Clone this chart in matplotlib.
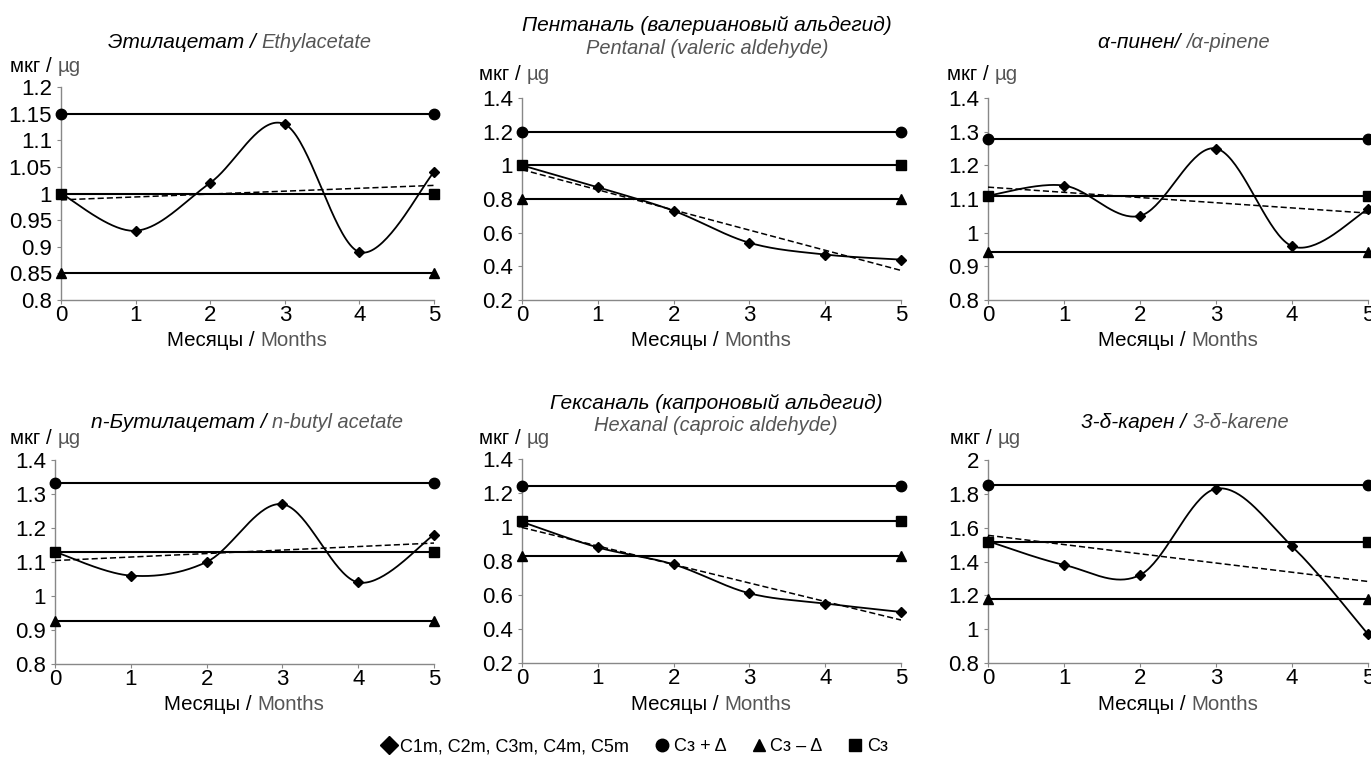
import numpy as np
import matplotlib
matplotlib.use("Agg")
import matplotlib.pyplot as plt
from matplotlib.lines import Line2D
from matplotlib.offsetbox import TextArea, HPacker, AnnotationBbox
from matplotlib.ticker import MultipleLocator, FuncFormatter

plt.rcParams['font.family'] = ['Liberation Sans', 'DejaVu Sans']

# ---------------- data ----------------
months = [0, 1, 2, 3, 4, 5]

ethyl_c = [1.00, 0.93, 1.02, 1.13, 0.89, 1.04]
ethyl_c3, ethyl_hi, ethyl_lo = 1.00, 1.15, 0.85

pentanal_c = [1.00, 0.87, 0.73, 0.54, 0.47, 0.44]
pentanal_c3, pentanal_hi, pentanal_lo = 1.00, 1.20, 0.80

pinene_c = [1.11, 1.14, 1.05, 1.25, 0.96, 1.07]
pinene_c3, pinene_hi, pinene_lo = 1.11, 1.277, 0.944

butyl_c = [1.13, 1.06, 1.10, 1.27, 1.04, 1.18]
butyl_c3, butyl_hi, butyl_lo = 1.13, 1.333, 0.927

hexanal_c = [1.03, 0.88, 0.78, 0.61, 0.55, 0.50]
hexanal_c3, hexanal_hi, hexanal_lo = 1.035, 1.242, 0.829

karene_c = [1.52, 1.38, 1.32, 1.83, 1.49, 0.97]
karene_c3, karene_hi, karene_lo = 1.516, 1.851, 1.181

titles_ru = ["Этилацетат / ", "Пентаналь (валериановый альдегид)", "α-пинен/ ",
             "n-Бутилацетат / ", "Гексаналь (капроновый альдегид)", "3-δ-карен / "]
titles_en = ["Ethylacetate", "Pentanal (valeric aldehyde)", "/α-pinene",
             "n-butyl acetate", "Hexanal (caproic aldehyde)", "3-δ-karene"]
two_line = [False, True, False, False, True, False]

y_limits = [(0.8, 1.2), (0.2, 1.4), (0.8, 1.4), (0.8, 1.4), (0.2, 1.4), (0.8, 2.0)]
y_steps = [0.05, 0.2, 0.1, 0.1, 0.2, 0.2]

legend_labels = ["C1m, C2m, C3m, C4m, C5m", "Cз + Δ", "Cз – Δ", "Cз"]

series = [
    (ethyl_c, ethyl_c3, ethyl_hi, ethyl_lo),
    (pentanal_c, pentanal_c3, pentanal_hi, pentanal_lo),
    (pinene_c, pinene_c3, pinene_hi, pinene_lo),
    (butyl_c, butyl_c3, butyl_hi, butyl_lo),
    (hexanal_c, hexanal_c3, hexanal_hi, hexanal_lo),
    (karene_c, karene_c3, karene_hi, karene_lo),
]

# ---------------- layout (pixels) ----------------
W, H = 1371, 766
fig = plt.figure(figsize=(W / 100, H / 100), dpi=100)

boxes_px = [  # left, right, top, bottom
    (61, 434, 87, 300),
    (522, 901, 98, 300),
    (988, 1368, 98, 300),
    (55, 434, 460, 664),
    (522, 901, 459, 663),
    (988, 1368, 460, 663),
]
title_x = [240, 707, 1184, 247, 716, 1185]
title_y = [42, (25, 48), 42, 422, (403, 425), 422]
unit_pos = [(10, 67), (479, 75), (947, 75), (10, 438), (479, 438), (950, 439)]
xlabel_y = [340, 340, 340, 705, 705, 705]

GRAY = '#555555'
SPINE = '#888888'


def fx(px):
    return px / W


def fy(py):
    return 1 - py / H


def rich(x_px, y_px, parts, style='normal', align=(0.5, 0.5)):
    children = [TextArea(s, textprops=dict(color=c, fontsize=sz, fontstyle=style))
                for s, c, sz in parts]
    pack = HPacker(children=children, align='baseline', pad=0, sep=0)
    ab = AnnotationBbox(pack, (fx(x_px), fy(y_px)), xycoords='figure fraction',
                        frameon=False, box_alignment=align, pad=0)
    fig.add_artist(ab)


def smooth(xs, ys, n=40):
    xs = np.asarray(xs, float)
    ys = np.asarray(ys, float)
    px = np.concatenate([[xs[0]], xs, [xs[-1]]])
    py = np.concatenate([[ys[0]], ys, [ys[-1]]])
    tx = (px[2:] - px[:-2]) / 2
    ty = (py[2:] - py[:-2]) / 2
    outx, outy = [], []
    t = np.linspace(0, 1, n)
    for i in range(len(xs) - 1):
        p0 = np.array([xs[i], ys[i]])
        p3 = np.array([xs[i + 1], ys[i + 1]])
        p1 = p0 + np.array([tx[i], ty[i]]) / 3
        p2 = p3 - np.array([tx[i + 1], ty[i + 1]]) / 3
        b = ((1 - t) ** 3)[:, None] * p0 + (3 * (1 - t) ** 2 * t)[:, None] * p1 \
            + (3 * (1 - t) * t ** 2)[:, None] * p2 + (t ** 3)[:, None] * p3
        outx.extend(b[:, 0])
        outy.extend(b[:, 1])
    return outx, outy


fmt = FuncFormatter(lambda v, p: '%g' % round(v, 3))

for i, (cvals, c3, hi, lo) in enumerate(series):
    l, r, t, b = boxes_px[i]
    ax = fig.add_axes([fx(l), fy(b), (r - l) / W, (b - t) / H])
    ax.set_xlim(0, 5)
    ax.set_ylim(*y_limits[i])
    ax.yaxis.set_major_locator(MultipleLocator(y_steps[i]))
    ax.yaxis.set_major_formatter(fmt)
    ax.set_xticks(months)
    for s in ['top', 'right']:
        ax.spines[s].set_visible(False)
    for s in ['left', 'bottom']:
        ax.spines[s].set_color(SPINE)
        ax.spines[s].set_linewidth(1.0)
    ax.tick_params(axis='y', direction='out', length=3, color=SPINE, labelsize=16, pad=3.5)
    ax.tick_params(axis='x', direction='out', length=3, color=SPINE, labelsize=16, pad=0.5)
    ax.patch.set_alpha(0)

    ends = [months[0], months[-1]]
    ax.plot(ends, [hi, hi], color='black', lw=1.5, marker='o', ms=7.5, clip_on=False, zorder=3)
    ax.plot(ends, [lo, lo], color='black', lw=1.5, marker='^', ms=7.5, clip_on=False, zorder=3)
    ax.plot(ends, [c3, c3], color='black', lw=1.5, marker='s', ms=7, clip_on=False, zorder=3)

    sx, sy = smooth(months, cvals)
    ax.plot(sx, sy, color='black', lw=1.3, zorder=4, clip_on=False)
    ax.plot(months, cvals, ls='none', marker='D', ms=5, color='black', zorder=5, clip_on=False)

    k, m = np.polyfit(months, cvals, 1)
    xt = np.array([months[0], months[-1]])
    ax.plot(xt, k * xt + m, color='black', lw=1.1, ls=(0, (4, 2)), zorder=4)

    cx = (l + r) / 2
    if two_line[i]:
        y1, y2 = title_y[i]
        rich(title_x[i], y1, [(titles_ru[i], 'black', 15)], 'italic')
        rich(title_x[i], y2, [(titles_en[i], GRAY, 14.4)], 'italic')
    else:
        rich(title_x[i], title_y[i], [(titles_ru[i], 'black', 15), (titles_en[i], GRAY, 14.4)],
             'italic')

    ux, uy = unit_pos[i]
    rich(ux, uy, [("мкг / ", 'black', 14.8), ("µg", GRAY, 14.8)], 'normal', align=(0, 0.5))
    rich(cx, xlabel_y[i], [("Месяцы / ", 'black', 14.8), ("Months", GRAY, 14.8)], 'normal')

handles = [
    Line2D([], [], ls='none', marker='D', ms=9, color='black'),
    Line2D([], [], ls='none', marker='o', ms=9, color='black'),
    Line2D([], [], ls='none', marker='^', ms=9, color='black'),
    Line2D([], [], ls='none', marker='s', ms=8, color='black'),
]
fig.legend(handles, legend_labels, loc='center', bbox_to_anchor=(0.463, 0.025),
           ncol=4, frameon=False, fontsize=13, handlelength=0.8, handletextpad=0.25,
           columnspacing=1.4, borderpad=0)

fig.savefig('out.png', dpi=100)
